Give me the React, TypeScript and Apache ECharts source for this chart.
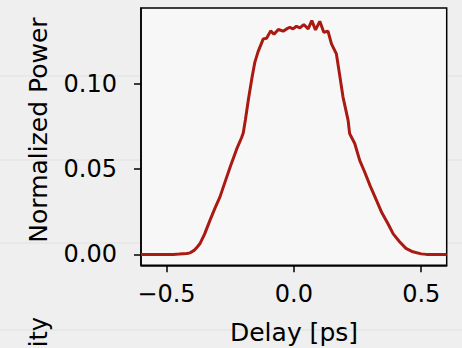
import React, { useEffect, useRef } from "react";
import * as echarts from "echarts";

const delay: number[] = [
  -0.6, -0.5, -0.473, -0.45, -0.42, -0.407, -0.39, -0.38, -0.368, -0.35, -0.329, -0.31, -0.29, -0.27, -0.25,
  -0.225, -0.205, -0.1986, -0.19, -0.179, -0.165, -0.153, -0.14, -0.12, -0.107, -0.091, -0.078, -0.061, -0.042,
  -0.03, -0.016, -0.003, 0.01, 0.0235, 0.039, 0.056, 0.0705, 0.085, 0.1018, 0.1175, 0.134, 0.1477,
  0.167, 0.18, 0.193, 0.213, 0.219, 0.239, 0.2585, 0.278, 0.3, 0.324, 0.345, 0.369, 0.39, 0.415,
  0.44, 0.467, 0.5, 0.52, 0.6,
];
const power: number[] = [
  0, 0, 0, 0.0002, 0.0005, 0.0009, 0.0025, 0.0042, 0.0064, 0.012, 0.0201, 0.027, 0.0337, 0.0425, 0.0512,
  0.0615, 0.0685, 0.0712, 0.079, 0.0902, 0.103, 0.1127, 0.119, 0.1263, 0.1267, 0.131, 0.129, 0.1318, 0.1308,
  0.132, 0.1331, 0.1322, 0.1337, 0.1327, 0.1347, 0.1322, 0.137, 0.1316, 0.1366, 0.1302, 0.1308,
  0.1234, 0.1175, 0.105, 0.0922, 0.0785, 0.0708, 0.065, 0.0551, 0.0483, 0.04, 0.0318, 0.0245,
  0.0181, 0.012, 0.0074, 0.0035, 0.0015, 0.0003, 0, 0,
];
const xTicks: number[] = [-0.5, 0, 0.5];
const yTicks: number[] = [0, 0.05, 0.1];
const xLabel = "Delay [ps]";
const yLabel = "Normalized Power";
const cutLabel = "ity";
const bgLinesY: number[] = [76, 160, 243, 330];

const FONT = "DejaVu Sans";

export default function App() {
  const ref = useRef<HTMLDivElement>(null);
  useEffect(() => {
    if (!ref.current) return;
    const chart = echarts.init(ref.current, undefined, { renderer: "svg" });
    const fmtX = (v: number) => {
      const s = Math.abs(v).toFixed(1);
      return v < -1e-9 ? "\u2212" + s : s;
    };
    chart.setOption({
      animation: false,
      backgroundColor: "#efefef",
      grid: {
        left: 141,
        top: 8,
        width: 305.7,
        height: 257.3,
        show: true,
        backgroundColor: "#f8f7f8",
        borderColor: "#000",
        borderWidth: 1.5,
      },
      xAxis: {
        type: "value",
        min: -0.6,
        max: 0.6,
        splitLine: { show: false },
        axisLine: { show: true, onZero: false, lineStyle: { color: "#000", width: 1.5 } },
        axisTick: { show: true, length: 7, lineStyle: { color: "#000", width: 1.5 }, customValues: xTicks },
        axisLabel: {
          customValues: xTicks,
          formatter: fmtX,
          color: "#000",
          fontFamily: FONT,
          fontSize: 24,
          margin: 17,
        },
      },
      yAxis: {
        type: "value",
        min: -0.0064,
        max: 0.1444,
        splitLine: { show: false },
        axisLine: { show: true, onZero: false, lineStyle: { color: "#000", width: 1.5 } },
        axisTick: { show: true, length: 7, lineStyle: { color: "#000", width: 1.5 }, customValues: yTicks },
        axisLabel: {
          customValues: yTicks,
          formatter: (v: number) => v.toFixed(2),
          color: "#000",
          fontFamily: FONT,
          fontSize: 24,
          margin: 24,
        },
      },
      graphic: [
        ...bgLinesY.map((y) => ({
          type: "line",
          z: -5,
          silent: true,
          shape: { x1: 0, y1: y, x2: 462, y2: y },
          style: { stroke: "#e6e6e6", lineWidth: 1.5 },
        })),
        {
          type: "text",
          x: 294,
          y: 332,
          style: {
            text: xLabel,
            fill: "#000",
            font: `25px "${FONT}"`,
            textAlign: "center",
            textVerticalAlign: "middle",
          },
        },
        {
          type: "text",
          x: 38,
          y: 130,
          rotation: Math.PI / 2,
          style: {
            text: yLabel,
            fill: "#000",
            font: `25px "${FONT}"`,
            textAlign: "center",
            textVerticalAlign: "middle",
          },
        },
        {
          type: "text",
          x: 39,
          y: 317,
          rotation: Math.PI / 2,
          style: {
            text: cutLabel,
            fill: "#000",
            font: `24px "${FONT}"`,
            textAlign: "right",
            textVerticalAlign: "middle",
          },
        },
      ],
      series: [
        {
          type: "line",
          data: delay.map((x, i) => [x, power[i]]),
          showSymbol: false,
          smooth: false,
          lineStyle: { color: "#a91b12", width: 3 },
          clip: true,
        },
      ],
    });
    return () => chart.dispose();
  }, []);
  return <div ref={ref} style={{ width: 462, height: 348, position: "absolute", left: 0, top: 0 }} />;
}
